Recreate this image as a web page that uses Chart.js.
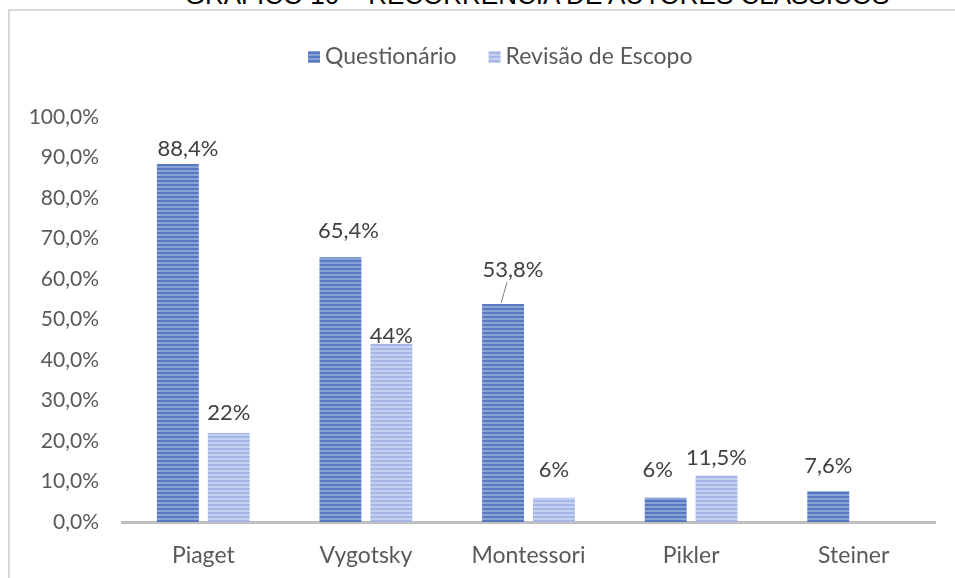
<!DOCTYPE html>
<html>
<head>
<meta charset="utf-8">
<script src="https://cdn.jsdelivr.net/npm/chart.js@4.4.1/dist/chart.umd.min.js"></script>
<style>
  html, body { margin: 0; padding: 0; background: #ffffff; overflow: hidden; }
  #wrap { position: relative; width: 955px; height: 578px; }
  #frame { position: absolute; left: 8px; top: 9px; width: 1000px; height: 600px;
           border-left: 2px solid #d9d9d9; border-top: 2px solid #d9d9d9; }
  #title { position: absolute; left: 0; width: 1074px; top: -18px; text-align: center;
           font-family: "Liberation Sans", Arial, sans-serif; font-size: 26px; line-height: 26px;
           color: #000000; white-space: nowrap; }
  canvas { position: absolute; left: 0; top: 0; }
</style>
</head>
<body>
<div id="wrap">
  <div id="frame"></div>
  <div id="title">GRÁFICO 10 – RECORRÊNCIA DE AUTORES CLÁSSICOS</div>
  <canvas id="c" width="955" height="578"></canvas>
</div>
<script>
// ---- data ----
const categories = ["Piaget", "Vygotsky", "Montessori", "Pikler", "Steiner"];
const seriesNames = ["Questionário", "Revisão de Escopo"];
const questionario = [88.4, 65.4, 53.8, 6, 7.6];
const revisaoEscopo = [22, 44, 6, 11.5, null];
const yTicks = [0, 10, 20, 30, 40, 50, 60, 70, 80, 90, 100];

// ---- styles ----
const FONT = "Lato, 'Open Sans', sans-serif";
function stripes(c1, c2) {
  const cv = document.createElement('canvas');
  cv.width = 1; cv.height = 4;
  const x = cv.getContext('2d');
  x.fillStyle = c1; x.fillRect(0, 0, 1, 2);
  x.fillStyle = c2; x.fillRect(0, 2, 1, 2);
  return x.createPattern(cv, 'repeat');
}
const ctx = document.getElementById('c').getContext('2d');
const qFill = stripes('#5679c0', '#88a2d8');
const rFill = stripes('#a6b6e5', '#c4d0f0');

// label nudges (px) relative to bar top: [dx, dy]
const labelNudge = [
  [[10, -15], [8, -26], [10, -34], [-8, -28], [0, -25]],
  [[0, -20], [0, -8], [0, -28], [0, -18], [0, 0]]
];
const leaderLines = { "0-2": true };

function fmt(v) {
  return Number.isInteger(v) ? v + '%' : v.toFixed(1).replace('.', ',') + '%';
}

const dataLabels = {
  id: 'dataLabels',
  afterDatasetsDraw(chart) {
    const c = chart.ctx;
    c.save();
    c.font = "22px " + FONT;
    c.fillStyle = '#404040';
    c.textAlign = 'center';
    c.textBaseline = 'middle';
    chart.data.datasets.forEach((ds, di) => {
      const meta = chart.getDatasetMeta(di);
      meta.data.forEach((bar, i) => {
        const v = ds.data[i];
        if (v === null || v === undefined) return;
        const [dx, dy] = labelNudge[di][i];
        const lx = bar.x + dx, ly = bar.y + dy;
        c.fillText(fmt(v), lx, ly);
        if (leaderLines[di + '-' + i]) {
          c.strokeStyle = '#7f7f7f';
          c.lineWidth = 1;
          c.beginPath();
          c.moveTo(lx - 6, ly + 12);
          c.lineTo(bar.x - 2, bar.y - 1);
          c.stroke();
        }
      });
    });
    c.restore();
  }
};

const customLegend = {
  id: 'customLegend',
  afterDraw(chart) {
    const c = chart.ctx;
    c.save();
    c.font = "23px " + FONT;
    c.textBaseline = 'middle';
    c.textAlign = 'left';
    const y = 57;
    let x = 308;
    chart.data.datasets.forEach((ds) => {
      c.fillStyle = ds.backgroundColor;
      c.fillRect(x, y - 6, 12, 12);
      c.fillStyle = '#595959';
      c.fillText(ds.label, x + 17, y);
      x += 17 + c.measureText(ds.label).width + 32;
    });
    c.restore();
  }
};

new Chart(ctx, {
  type: 'bar',
  data: {
    labels: categories,
    datasets: [
      { label: seriesNames[0], data: questionario, backgroundColor: qFill,
        categoryPercentage: 0.626, barPercentage: 0.824 },
      { label: seriesNames[1], data: revisaoEscopo, backgroundColor: rFill,
        categoryPercentage: 0.626, barPercentage: 0.824 }
    ]
  },
  options: {
    responsive: false,
    animation: false,
    layout: { padding: { top: 117, right: 20, left: 0, bottom: 0 } },
    plugins: { legend: { display: false }, tooltip: { enabled: false }, title: { display: false } },
    scales: {
      x: {
        grid: { display: false },
        border: { display: true, color: '#bfbfbf', width: 3 },
        ticks: { font: { family: FONT, size: 23 }, color: '#595959', padding: 12 },
        afterFit(s) { s.height = 56; }
      },
      y: {
        min: 0, max: 100,
        afterBuildTicks(s) { s.ticks = yTicks.map(v => ({ value: v })); },
        grid: { display: false },
        border: { display: false },
        ticks: { font: { family: FONT, size: 21 }, color: '#595959', padding: 15,
                 callback: v => v.toFixed(1).replace('.', ',') + '%' },
        afterFit(s) { s.width = 122; }
      }
    }
  },
  plugins: [dataLabels, customLegend]
});
</script>
</body>
</html>
